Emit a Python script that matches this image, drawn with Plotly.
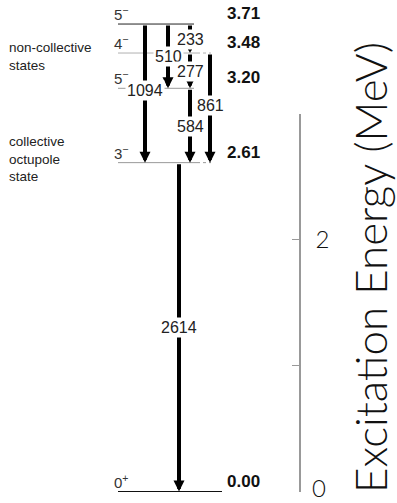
import plotly.graph_objects as go

# Level scheme: excitation energies (MeV) and spin-parity of each level
level_energy = [0.00, 2.61, 3.20, 3.48, 3.71]
level_jpi = ["0<sup>+</sup>", "3<sup>−</sup>", "5<sup>−</sup>", "4<sup>−</sup>", "5<sup>−</sup>"]
level_label = ["0.00", "2.61", "3.20", "3.48", "3.71"]

# Gamma transitions: energy (keV), initial and final level energies (MeV)
gamma_kev = [1094, 510, 233, 277, 584, 861, 2614]
gamma_from = [3.71, 3.71, 3.71, 3.48, 3.20, 3.48, 2.61]
gamma_to = [2.61, 3.20, 3.48, 3.20, 2.61, 2.61, 0.00]

# Energy axis ticks (the zero label sits at the page edge and is drawn separately)
axis_ticks = [0, 1, 2, 3]
axis_ticktext = ["", "", "2", ""]
zero_label = "0"

# Horizontal lane of each transition arrow and where its label sits (MeV)
lane_x = {1094: 145, 510: 168, 233: 190, 277: 190, 584: 190, 861: 210, 2614: 179}
label_y = {1094: 3.18, 510: 3.452, 233: 3.591, 277: 3.337, 584: 2.90, 861: 3.06, 2614: 1.298}

# Level line extents and styles
line_style = {
    0.00: dict(x1=222, color="#111111", dotted_to=None),
    2.61: dict(x1=197, color="#9a9a9a", dotted_to=211),
    3.20: dict(x1=194, color="#9a9a9a", dotted_to=None),
    3.48: dict(x1=197, color="#b0b0b0", dotted_to=211),
    3.71: dict(x1=194, color="#222222", dotted_to=None),
}

W, H = 397, 503
PX_PER_MEV = 126.0
ZERO_PY = 491.5
y_lo = -(H - ZERO_PY) / PX_PER_MEV
y_hi = ZERO_PY / PX_PER_MEV
AXIS_X = 300

fig = go.Figure()

# invisible trace so the energy axis subplot is built
fig.add_trace(go.Scatter(x=[AXIS_X], y=[0], yaxis="y2", mode="markers",
                         marker=dict(opacity=0), hoverinfo="skip", showlegend=False))

shapes = []
for e in level_energy:
    st = line_style[e]
    shapes.append(dict(type="line", xref="x", yref="y", x0=118, x1=st["x1"], y0=e, y1=e,
                       line=dict(color=st["color"], width=1)))
    if st["dotted_to"]:
        shapes.append(dict(type="line", xref="x", yref="y", x0=st["x1"], x1=st["dotted_to"],
                           y0=e, y1=e, line=dict(color=st["color"], width=1, dash="dot")))

annotations = []
label_font = dict(family="Liberation Sans, Arial, sans-serif", size=16, color="#222222")

# transition arrows
for g, ef, et in zip(gamma_kev, gamma_from, gamma_to):
    x = lane_x[g]
    annotations.append(dict(x=x, y=et, ax=x, ay=ef, xref="x", yref="y", axref="x", ayref="y",
                            text="", showarrow=True, arrowhead=2, arrowsize=0.55,
                            arrowwidth=4, arrowcolor="#000000", standoff=0, startstandoff=0))

# transition energy labels with white boxes over the arrows
for g in gamma_kev:
    annotations.append(dict(x=lane_x[g], y=label_y[g], xref="x", yref="y", text=str(g),
                            showarrow=False, font=label_font, bgcolor="#ffffff",
                            borderpad=1, xanchor="center", yanchor="middle"))

# spin-parity and level energy labels
for e, jp, lab in zip(level_energy, level_jpi, level_label):
    annotations.append(dict(x=112, y=e, xref="x", yref="y", text=jp, showarrow=False,
                            xanchor="left", yanchor="bottom", yshift=-1,
                            font=dict(family="Liberation Sans, Arial, sans-serif",
                                      size=15, color="#333333")))
    annotations.append(dict(x=225, y=e, xref="x", yref="y", text=f"<b>{lab}</b>",
                            showarrow=False, xanchor="left", yanchor="bottom", yshift=-1,
                            font=dict(family="Liberation Sans, Arial, sans-serif",
                                      size=17, color="#111111")))

# group descriptions
desc_font = dict(family="Liberation Sans, Arial, sans-serif", size=13.5, color="#222222")
annotations.append(dict(x=7, y=(ZERO_PY - 56) / PX_PER_MEV, xref="x", yref="y",
                        text="non-collective<br>states", showarrow=False, align="left",
                        xanchor="left", yanchor="middle", font=desc_font))
annotations.append(dict(x=7, y=(ZERO_PY - 159) / PX_PER_MEV, xref="x", yref="y",
                        text="collective<br>octupole<br>state", showarrow=False, align="left",
                        xanchor="left", yanchor="middle", font=desc_font))

# zero label of the energy axis, resting on the bottom edge
tick_font = dict(family="Lato, sans-serif", size=24, weight=300, color="#111111")
annotations.append(dict(x=AXIS_X + 11, y=0, xref="paper", yref="paper", text=zero_label,
                        showarrow=False, xanchor="left", yanchor="bottom",
                        font=tick_font, borderpad=0))
annotations[-1]["x"] = (AXIS_X + 11) / W

# axis title
annotations.append(dict(x=370 / W, y=(H - 268) / H, xref="paper", yref="paper",
                        text="Excitation Energy (MeV)", textangle=-90, showarrow=False,
                        xanchor="center", yanchor="middle",
                        font=dict(family="Lato, sans-serif", size=44, weight=300,
                                  color="#111111")))

fig.update_layout(
    width=W, height=H, autosize=False,
    margin=dict(l=0, r=0, t=0, b=0),
    paper_bgcolor="#ffffff", plot_bgcolor="rgba(0,0,0,0)",
    showlegend=False,
    xaxis=dict(range=[0, W], domain=[0, 1], visible=False, fixedrange=True),
    yaxis=dict(range=[y_lo, y_hi], domain=[0, 1], visible=False, fixedrange=True),
    yaxis2=dict(range=[0, 3], domain=[(H - ZERO_PY) / H, (H - ZERO_PY + 3 * PX_PER_MEV) / H],
                anchor="free", position=AXIS_X / W, side="right",
                showline=True, linecolor="#999999", linewidth=1.5,
                ticks="inside", ticklen=7, tickcolor="#999999", tickwidth=1,
                tickvals=axis_ticks, ticktext=axis_ticktext, ticklabelstandoff=10,
                tickfont=tick_font,
                showgrid=False, zeroline=False, fixedrange=True),
    shapes=shapes,
    annotations=annotations,
)

fig.write_html("out.html")
